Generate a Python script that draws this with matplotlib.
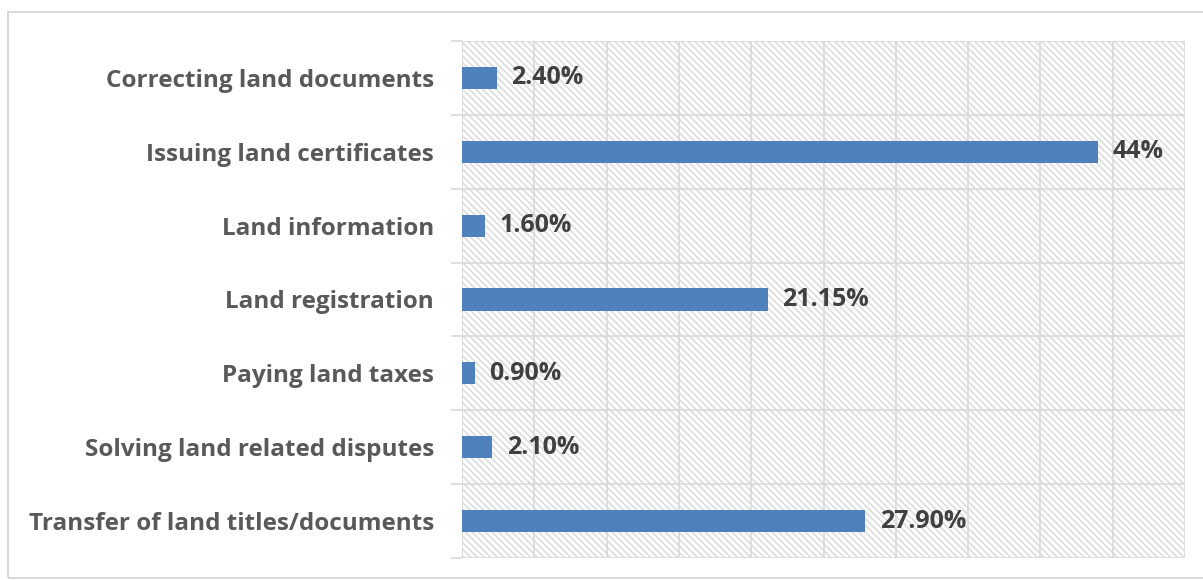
import matplotlib.pyplot as plt
from matplotlib.patches import Rectangle
import matplotlib as mpl

categories = [
    "Correcting land documents",
    "Issuing land certificates",
    "Land information",
    "Land registration",
    "Paying land taxes",
    "Solving land related disputes",
    "Transfer of land titles/documents",
]
values = [2.40, 44, 1.60, 21.15, 0.90, 2.10, 27.90]
value_labels = ["2.40%", "44%", "1.60%", "21.15%", "0.90%", "2.10%", "27.90%"]

mpl.rcParams['hatch.color'] = '#dcdcdc'
mpl.rcParams['hatch.linewidth'] = 1.2

W, H = 1203, 580
fig = plt.figure(figsize=(W / 100, H / 100), dpi=100)
ax = fig.add_axes([462 / W, 1 - 558 / H, (1185 - 462) / W, (558 - 41) / H])

# outer chart border
fig.add_artist(Rectangle((8 / W, 2 / H), 1.2, (568 - 2) / H, transform=fig.transFigure,
                         fill=False, edgecolor='#d9d9d9', linewidth=1.5))

# hatched plot background
ax.add_patch(Rectangle((0, 0), 1, 1, transform=ax.transAxes, facecolor='white',
                       edgecolor='#dcdcdc', hatch='\\\\\\\\\\', linewidth=0, zorder=0))

y = list(range(len(categories)))
ax.barh(y, values, height=0.3, color='#4f81bd', zorder=3)

for yi, v, lab in zip(y, values, value_labels):
    ax.text(v + 1.0, yi, lab, va='center', ha='left', fontsize=18, fontweight='bold',
            color='#404040', family='Open Sans', zorder=4)

ax.set_xlim(0, 50)
ax.set_ylim(len(categories) - 0.5, -0.5)
ax.set_xticks(range(0, 51, 5))
ax.set_xticklabels([])
ax.tick_params(axis='x', length=0)
ax.set_yticks([i - 0.5 for i in range(len(categories) + 1)], minor=False)
ax.set_yticklabels([])
ax.tick_params(axis='y', which='major', length=8, color='#d9d9d9', width=1.2)
ax.set_yticks(y, minor=True)
ax.set_yticklabels(categories, minor=True, fontsize=17.5, fontweight='bold',
                   color='#595959', family='Open Sans')
ax.tick_params(axis='y', which='minor', length=0, pad=20)
ax.grid(True, which='major', color='#d9d9d9', linewidth=1.2, zorder=1)
ax.set_axisbelow(True)
for s in ax.spines.values():
    s.set_visible(False)

fig.savefig('out.png', dpi=100)
